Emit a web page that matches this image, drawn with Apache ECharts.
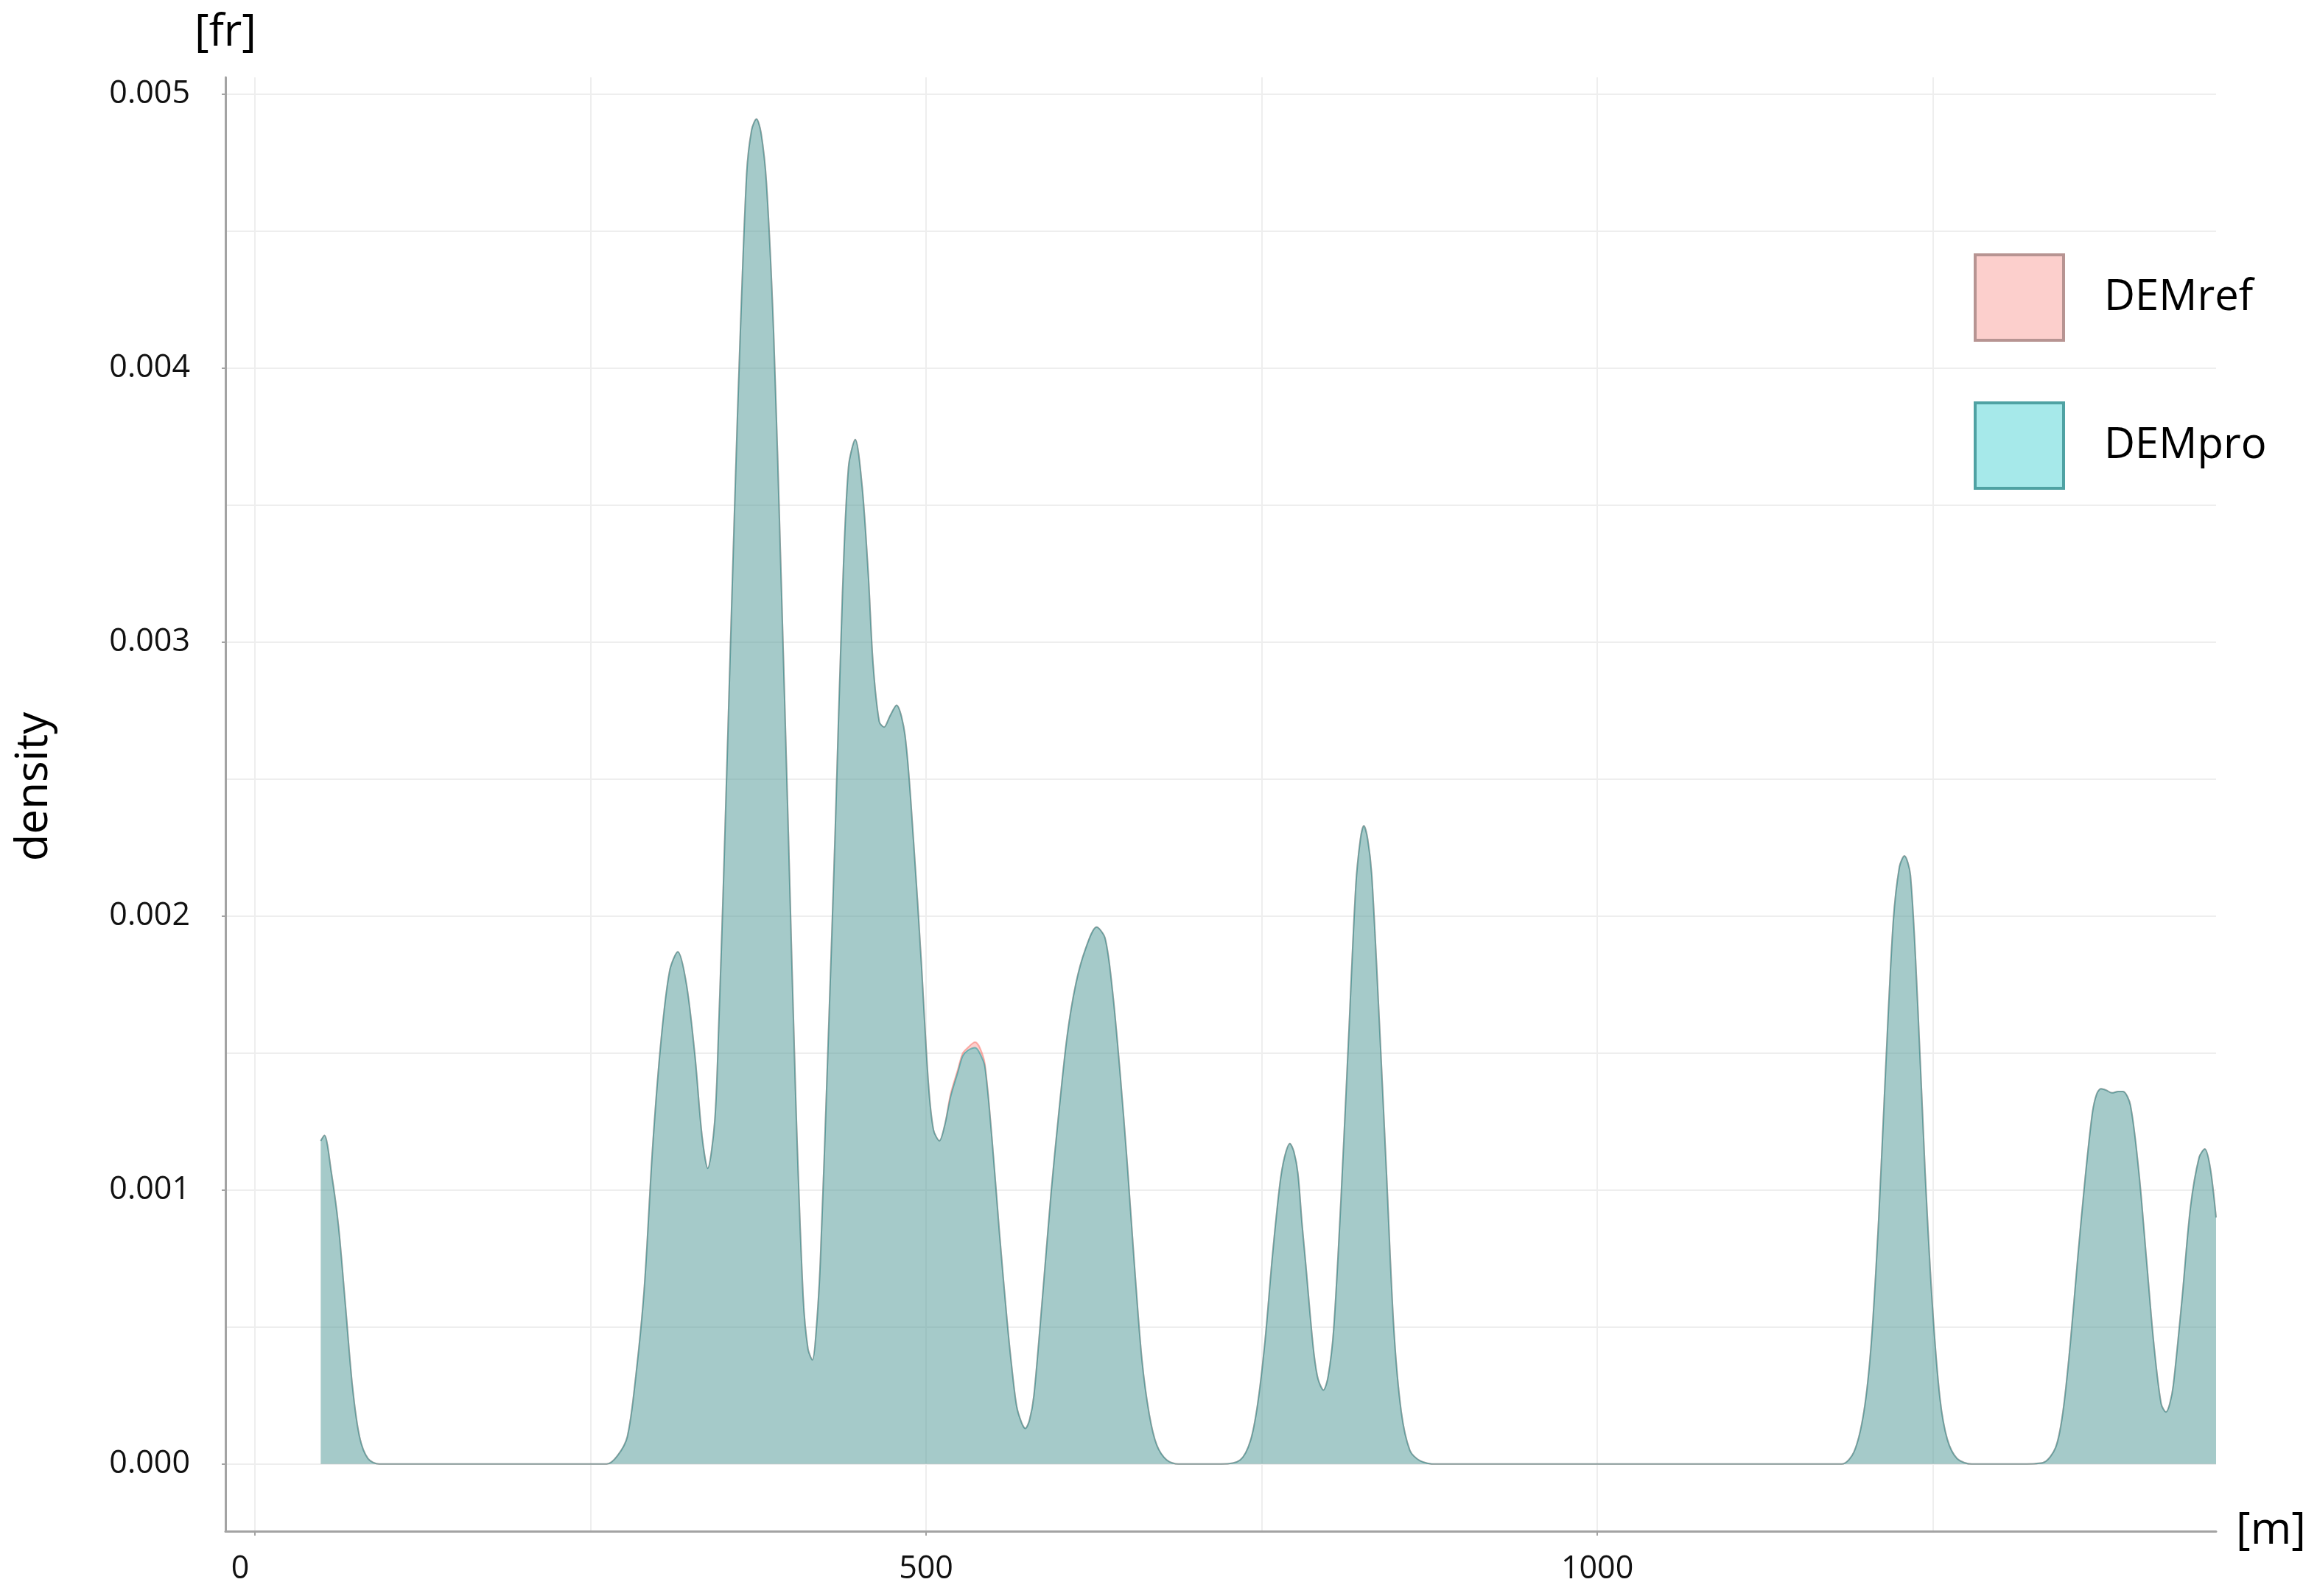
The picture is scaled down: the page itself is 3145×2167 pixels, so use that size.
<!DOCTYPE html>
<html>
<head>
<meta charset="utf-8">
<script src="https://cdn.jsdelivr.net/npm/echarts@6/dist/echarts.min.js"></script>
<style>
html,body{margin:0;padding:0;background:#fff;}
#chart{width:3145px;height:2167px;}
</style>
</head>
<body>
<div id="chart"></div>
<script>
// ---- data ----
const seriesNames = ['DEMref', 'DEMpro'];

const elevation = [
  49, 51.7, 56.9, 62.2, 67.4, 72.7, 77.9, 84.2, 92.6, 150, 200, 262, 270, 277.4, 283.7, 290, 296.3, 302.6, 308.9, 315,
  321.5, 327.8, 333, 337.3, 342.5, 345.5, 349, 354, 358, 361, 366.3, 370, 373.6, 377, 381, 386.4, 391.9, 397.4, 402.9, 408.4,
  412, 415.3, 418, 421.2, 426.7, 432.2, 437.7, 442.2, 447.2, 452.3, 456.9, 460.5, 465.1, 468.7, 473, 477.9, 484.3, 490.7, 496.2, 501.7,
  505.5, 509.9, 514, 518.2, 523.6, 527.3, 531, 536.5, 540, 543.8, 549.2, 554.7, 560.2, 563.9, 567.5, 571.2, 573.9, 577, 580.3, 586.7,
  593.1, 598.6, 605, 611.4, 618.7, 627, 633.3, 638.8, 644.3, 649.8, 655.3, 660.8, 666.3, 671.8, 679.2, 688, 720, 734, 741.6, 747,
  752.5, 758, 763.5, 767, 771, 774, 777, 780, 783, 786, 789, 792, 796, 799.5, 803.6, 809.1, 814.6, 820.1, 823.5, 826.1, 829, 832,
  837.5, 843, 848.5, 854, 860.4, 867.7, 880, 1000, 1100, 1182, 1191.3, 1198.6, 1204.1, 1209.6, 1215, 1220.5, 1225.1, 1228.8, 1233.3, 1238.8,
  1244.3, 1249.8, 1255.3, 1260.8, 1268.1, 1279, 1314, 1332, 1341.4, 1346.9, 1352.4, 1357.9, 1363.4, 1368.8, 1372, 1375.2, 1379, 1383.5, 1388, 1391.7,
  1397.2, 1403.6, 1409.1, 1414.6, 1420.1, 1423.7, 1426.5, 1429.2, 1435.6, 1442, 1448.4, 1452.6, 1456.7, 1461
];

const densityPro = [
  0.00118, 0.00120, 0.001065, 0.00087, 0.00058, 0.00028, 0.00010, 0.00002, 0, 0, 0, 0, 0.00003, 0.00010, 0.00032, 0.00064, 0.00116, 0.00155, 0.00180, 0.00187,
  0.00175, 0.00149, 0.00120, 0.00108, 0.00125, 0.00160, 0.00212, 0.00295, 0.00360, 0.00405, 0.00471, 0.00487, 0.00491, 0.00486, 0.00468, 0.00413, 0.00325, 0.00230, 0.00133, 0.00061,
  0.00042, 0.00038, 0.00048, 0.00074, 0.00149, 0.00230, 0.00318, 0.00364, 0.00374, 0.00357, 0.00325, 0.00292, 0.00271, 0.00269, 0.00273, 0.00277, 0.00266, 0.00227, 0.00185, 0.00139,
  0.00122, 0.00118, 0.00124, 0.00134, 0.00143, 0.00149, 0.00151, 0.00152, 0.00150, 0.00145, 0.00118, 0.00084, 0.00053, 0.00035, 0.00021, 0.00015, 0.00013, 0.00016, 0.00025, 0.00061,
  0.00099, 0.00127, 0.00156, 0.00175, 0.00188, 0.00196, 0.00192, 0.00173, 0.00144, 0.00110, 0.00072, 0.00038, 0.00018, 0.00007, 0.000015, 0, 0, 0.000015, 0.000085, 0.00022,
  0.00045, 0.00076, 0.00102, 0.00112, 0.00117, 0.00114, 0.00106, 0.00088, 0.00072, 0.00055, 0.00040, 0.00031, 0.00027, 0.00032, 0.00049, 0.00097, 0.00154, 0.00211, 0.00228, 0.00233, 0.00228, 0.00215,
  0.00163, 0.00106, 0.00049, 0.00019, 0.00005, 0.000013, 0, 0, 0, 0, 0.000045, 0.00019, 0.00044, 0.00089, 0.00146, 0.00198, 0.00218, 0.00222, 0.00215, 0.00167,
  0.00106, 0.00057, 0.00024, 0.00009, 0.00002, 0, 0, 0.000005, 0.00006, 0.00019, 0.00044, 0.00075, 0.00104, 0.00128, 0.00135, 0.00137, 0.001365, 0.001355, 0.00136, 0.00136,
  0.00131, 0.00106, 0.00075, 0.00044, 0.00022, 0.00019, 0.00022, 0.00029, 0.00060, 0.00094, 0.00112, 0.00115, 0.00108, 0.00090
];

const densityRef = [
  0.00118, 0.00120, 0.001065, 0.00087, 0.00058, 0.00028, 0.00010, 0.00002, 0, 0, 0, 0, 0.00003, 0.00010, 0.00032, 0.00064, 0.00116, 0.00155, 0.00180, 0.00187,
  0.00175, 0.00149, 0.00120, 0.00108, 0.00125, 0.00160, 0.00212, 0.00295, 0.00360, 0.00405, 0.00471, 0.00487, 0.00491, 0.00486, 0.00468, 0.00413, 0.00325, 0.00230, 0.00133, 0.00061,
  0.00042, 0.00038, 0.00048, 0.00074, 0.00149, 0.00230, 0.00318, 0.00364, 0.00374, 0.00357, 0.00325, 0.00292, 0.00271, 0.00269, 0.00273, 0.00277, 0.00266, 0.00227, 0.00185, 0.00139,
  0.00122, 0.00118, 0.00124, 0.00135, 0.00144, 0.00150, 0.00152, 0.00154, 0.00152, 0.00146, 0.00118, 0.00084, 0.00053, 0.00035, 0.00021, 0.00015, 0.00013, 0.00016, 0.00025, 0.00061,
  0.00099, 0.00127, 0.00156, 0.00175, 0.00188, 0.00196, 0.00192, 0.00173, 0.00144, 0.00110, 0.00072, 0.00038, 0.00018, 0.00007, 0.000015, 0, 0, 0.000015, 0.000085, 0.00022,
  0.00045, 0.00076, 0.00102, 0.00112, 0.00117, 0.00114, 0.00106, 0.00088, 0.00072, 0.00055, 0.00040, 0.00031, 0.00027, 0.00032, 0.00049, 0.00097, 0.00154, 0.00211, 0.00228, 0.00233, 0.00228, 0.00215,
  0.00163, 0.00106, 0.00049, 0.00019, 0.00005, 0.000013, 0, 0, 0, 0, 0.000045, 0.00019, 0.00044, 0.00089, 0.00146, 0.00198, 0.00218, 0.00222, 0.00215, 0.00167,
  0.00106, 0.00057, 0.00024, 0.00009, 0.00002, 0, 0, 0.000005, 0.00006, 0.00019, 0.00044, 0.00075, 0.00104, 0.00128, 0.00135, 0.00137, 0.001365, 0.001355, 0.00136, 0.00136,
  0.00131, 0.00106, 0.00075, 0.00044, 0.00022, 0.00019, 0.00022, 0.00029, 0.00060, 0.00094, 0.00112, 0.00115, 0.00108, 0.00090
];

const xTickLabels = [0, 500, 1000];
const xGridValues = [0, 250, 500, 750, 1000, 1250];
const yTickLabels = [0, 0.001, 0.002, 0.003, 0.004, 0.005];
const yGridValues = [0, 0.0005, 0.001, 0.0015, 0.002, 0.0025, 0.003, 0.0035, 0.004, 0.0045, 0.005];

// ---- chart ----
const FONT = 'Open Sans';
const xMin = -22, xMax = 1461;
const yMin = -0.000245, yMax = 0.005062;
const axisGray = '#a3a3a3';
const gridGray = '#eeeeee';

function pairs(xs, ys) { return xs.map((x, i) => [x, ys[i]]); }

const chart = echarts.init(document.getElementById('chart'), null, { renderer: 'canvas' });

const option = {
  animation: false,
  backgroundColor: '#ffffff',
  textStyle: { fontFamily: FONT },
  grid: { left: 306, top: 105, width: 2702, height: 1974, containLabel: false, outerBoundsMode: 'none' },
  legend: {
    orient: 'vertical',
    left: 2674,
    top: 339,
    icon: 'rect',
    itemWidth: 120,
    itemHeight: 116,
    itemGap: 81,
    textStyle: { fontFamily: FONT, fontSize: 58, color: '#000', padding: [0, 0, 0, 50] },
    data: [
      { name: seriesNames[0], itemStyle: { color: '#fccfcc', borderColor: '#b79492', borderWidth: 4, opacity: 1 } },
      { name: seriesNames[1], itemStyle: { color: '#a6e9ea', borderColor: '#4fa2a3', borderWidth: 4, opacity: 1 } }
    ]
  },
  xAxis: [
    {
      type: 'value', min: xMin, max: xMax, position: 'bottom',
      name: '[m]', nameLocation: 'end', nameGap: 27,
      nameTextStyle: { fontFamily: FONT, fontSize: 60, color: '#000', verticalAlign: 'middle' },
      axisLine: { show: true, onZero: false, lineStyle: { color: axisGray, width: 3 } },
      axisTick: { show: true, customValues: xTickLabels, length: 6, lineStyle: { color: axisGray, width: 2 } },
      axisLabel: {
        customValues: xTickLabels, margin: 30, fontFamily: FONT, fontSize: 43, color: '#111',
        formatter: v => (v === 0 ? '{z|0}' : String(v)),
        rich: { z: { fontFamily: FONT, fontSize: 43, color: '#111', padding: [0, 40, 0, 0] } }
      },
      splitLine: { show: false }
    },
    {
      type: 'value', min: xMin, max: xMax, position: 'top',
      axisLine: { show: false }, axisLabel: { show: false },
      axisTick: { show: false, customValues: xGridValues },
      splitLine: { show: true, lineStyle: { color: gridGray, width: 2 } }
    }
  ],
  yAxis: [
    {
      type: 'value', min: yMin, max: yMax, position: 'left',
      name: '[fr]', nameLocation: 'end', nameGap: 30,
      nameTextStyle: { fontFamily: FONT, fontSize: 60, color: '#000', align: 'center' },
      axisLine: { show: true, onZero: false, lineStyle: { color: axisGray, width: 3 } },
      axisTick: { show: true, customValues: yTickLabels, length: 5, lineStyle: { color: axisGray, width: 2 } },
      axisLabel: { customValues: yTickLabels, margin: 48, fontFamily: FONT, fontSize: 43, color: '#111', formatter: v => v.toFixed(3) },
      splitLine: { show: false }
    },
    {
      type: 'value', min: yMin, max: yMax, position: 'left',
      name: 'density', nameLocation: 'middle', nameGap: 229, nameRotate: 90,
      nameTextStyle: { fontFamily: FONT, fontSize: 60, color: '#000', padding: [0, 0, 0, 48] },
      axisLine: { show: false }, axisLabel: { show: false },
      axisTick: { show: false, customValues: yGridValues },
      splitLine: { show: true, lineStyle: { color: gridGray, width: 2 } }
    }
  ],
  series: [
    {
      name: seriesNames[0], type: 'line', xAxisIndex: 0, yAxisIndex: 0,
      data: pairs(elevation, densityRef),
      smooth: 0.3, symbol: 'none', showSymbol: false,
      itemStyle: { color: '#F8766D' },
      lineStyle: { width: 2, color: 'rgba(248,118,109,0.55)' },
      areaStyle: { color: '#F8766D', opacity: 0.35 },
      z: 2
    },
    {
      name: seriesNames[1], type: 'line', xAxisIndex: 0, yAxisIndex: 0,
      data: pairs(elevation, densityPro),
      smooth: 0.3, symbol: 'none', showSymbol: false,
      itemStyle: { color: '#00BFC4' },
      lineStyle: { width: 2, color: 'rgba(0,140,145,0.45)' },
      areaStyle: { color: '#00BFC4', opacity: 0.35 },
      z: 3
    }
  ]
};

chart.setOption(option);
</script>
</body>
</html>
